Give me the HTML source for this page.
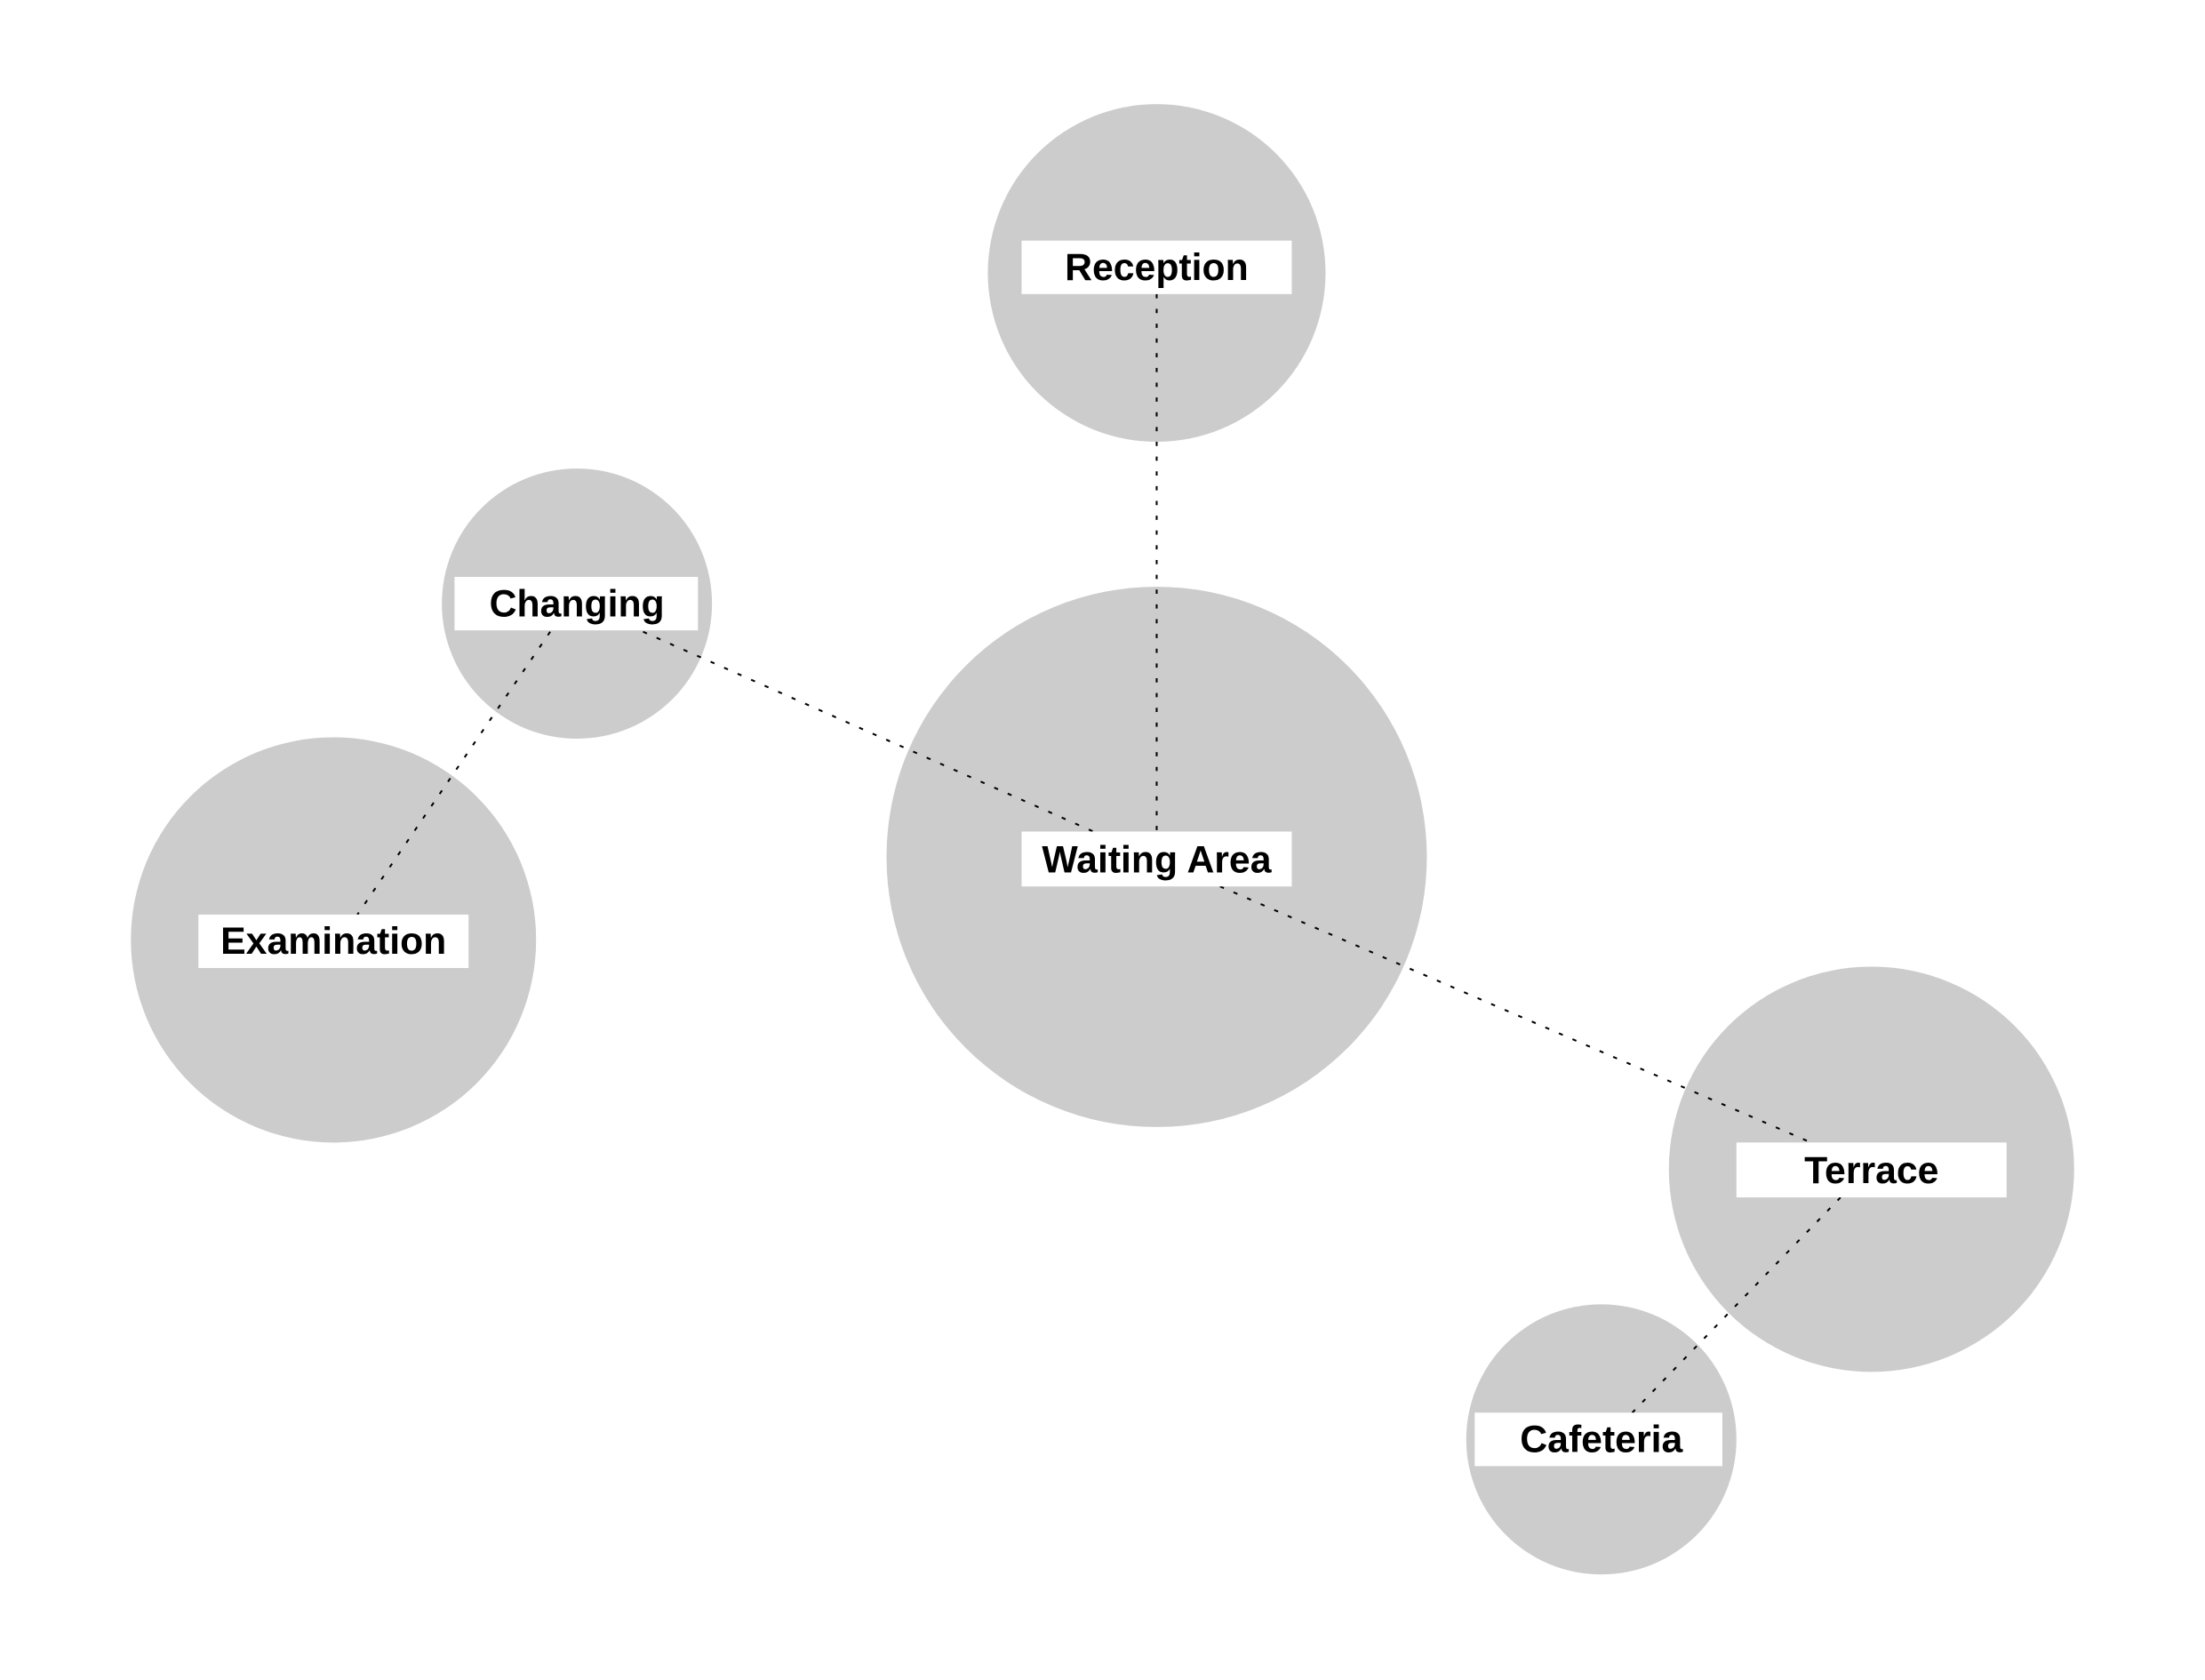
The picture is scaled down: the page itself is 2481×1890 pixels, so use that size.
<!DOCTYPE html>
<html><head><meta charset="utf-8"><style>
html,body{margin:0;padding:0;background:#fff;}
svg{display:block;}
text{font-family:"Liberation Sans",sans-serif;font-weight:bold;font-size:27px;fill:#000;}
</style></head><body>
<svg width="2481" height="1890" viewBox="0 0 1567 1194" preserveAspectRatio="none">
<rect width="1567" height="1194" fill="#fff"/>
<g fill="#cccccc">
<circle cx="822" cy="194" r="120"/>
<circle cx="410" cy="429" r="96"/>
<circle cx="237" cy="668" r="144"/>
<circle cx="822" cy="609" r="192"/>
<circle cx="1330" cy="831" r="144"/>
<circle cx="1138" cy="1023" r="96"/>
</g>
<g stroke="#000" stroke-width="1.3" stroke-dasharray="3 7.5" fill="none">
<line x1="822" y1="209" x2="822" y2="591"/>
<line x1="457" y1="449" x2="777" y2="591"/>
<line x1="391" y1="449" x2="254" y2="650"/>
<line x1="867" y1="630" x2="1287" y2="812"/>
<line x1="1308" y1="851" x2="1160" y2="1004"/>
</g>
<g fill="#fff">
<rect x="726" y="171" width="192" height="38"/>
<rect x="323" y="410" width="173" height="38"/>
<rect x="141" y="650" width="192" height="38"/>
<rect x="726" y="591" width="192" height="39"/>
<rect x="1234" y="812" width="192" height="39"/>
<rect x="1048" y="1004" width="176" height="38"/>
</g>
<g text-anchor="middle">
<text x="822" y="199">Reception</text>
<text x="410" y="438">Changing</text>
<text x="237" y="678">Examination</text>
<text x="822" y="620">Waiting Area</text>
<text x="1330" y="841">Terrace</text>
<text x="1138" y="1032">Cafeteria</text>
</g>
</svg>
</body></html>
